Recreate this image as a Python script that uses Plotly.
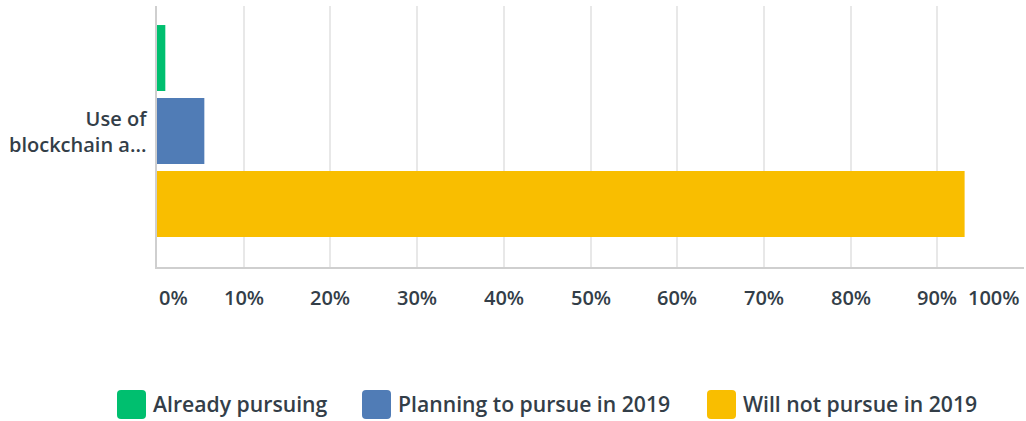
import plotly.graph_objects as go

# Survey question (truncated label as shown on the axis)
question = "Use of<br>blockchain a..."

# Response options and share of respondents (%)
responses = ["Already pursuing", "Planning to pursue in 2019", "Will not pursue in 2019"]
shares = [0.96, 5.46, 93.15]
colors = ["#00bf6f", "#507cb6", "#f9be00"]

# Percentage axis ticks
tick_vals = [0, 10, 20, 30, 40, 50, 60, 70, 80, 90, 100]
tick_text = [f"{v}%" for v in tick_vals]

W, H = 1026, 421
M_L, M_R, M_T, M_B = 157, 2, 6, 154
PW, PH = W - M_L - M_R, H - M_T - M_B
TEXT = "#333e48"
FONT = "Open Sans"


def px_x(p):
    return (p - M_L) / PW


def px_y(p):
    return (H - M_B - p) / PH


fig = go.Figure()
for name, val, col in zip(responses, shares, colors):
    fig.add_trace(go.Bar(
        y=[question], x=[val], name=name, orientation="h",
        marker=dict(color=col, line=dict(width=0)),
        showlegend=False,
    ))

annotations = []
# x tick labels: first and last pulled inside the plot edges
for v, t in zip(tick_vals, tick_text):
    anchor = "center"
    if v == tick_vals[0]:
        anchor = "left"
    elif v == tick_vals[-1]:
        anchor = "right"
    annotations.append(dict(
        x=v, xref="x", y=px_y(297), yref="paper", text=t, showarrow=False,
        xanchor=anchor, yanchor="middle", xshift=-2 if anchor == "right" else 0,
        font=dict(family=FONT, size=20, color=TEXT, weight=600),
    ))

# category label
annotations.append(dict(
    x=0, xref="paper", y=question, yref="y", text=question, showarrow=False,
    xanchor="right", yanchor="middle", xshift=-7, align="right",
    font=dict(family=FONT, size=20, color=TEXT, weight=600),
))

# custom legend with large rounded swatches
shapes = []
legend_left = [117, 362, 707]
sw, r = 29, 4
top, bot = 390, 419
for name, col, lx in zip(responses, colors, legend_left):
    x0, x1 = lx, lx + sw
    path = (
        f"M {px_x(x0 + r)} {px_y(top)} L {px_x(x1 - r)} {px_y(top)} "
        f"Q {px_x(x1)} {px_y(top)} {px_x(x1)} {px_y(top + r)} "
        f"L {px_x(x1)} {px_y(bot - r)} Q {px_x(x1)} {px_y(bot)} {px_x(x1 - r)} {px_y(bot)} "
        f"L {px_x(x0 + r)} {px_y(bot)} Q {px_x(x0)} {px_y(bot)} {px_x(x0)} {px_y(bot - r)} "
        f"L {px_x(x0)} {px_y(top + r)} Q {px_x(x0)} {px_y(top)} {px_x(x0 + r)} {px_y(top)} Z"
    )
    shapes.append(dict(type="path", xref="paper", yref="paper", path=path,
                       fillcolor=col, line=dict(width=0)))
    annotations.append(dict(
        x=px_x(x1 + 5), xref="paper", y=px_y(403), yref="paper", text=name,
        showarrow=False, xanchor="left", yanchor="middle",
        font=dict(family=FONT, size=21.2, color=TEXT, weight=600),
    ))

fig.update_layout(
    width=W, height=H,
    margin=dict(l=M_L, r=M_R, t=M_T, b=M_B, pad=0),
    paper_bgcolor="white", plot_bgcolor="white",
    barmode="group", bargap=0.161, bargroupgap=0.096,
    font=dict(family=FONT, color=TEXT),
    xaxis=dict(
        range=[0, 100], tickvals=tick_vals, showticklabels=False,
        showgrid=True, gridcolor="#e8e8e8", gridwidth=1.5,
        zeroline=False, showline=True, linecolor="#cfcfcf", linewidth=2,
        mirror=False, fixedrange=True,
    ),
    yaxis=dict(
        range=[0.521, -0.479], showticklabels=False, showgrid=False,
        zeroline=False, showline=True, linecolor="#cfcfcf", linewidth=2,
        fixedrange=True,
    ),
    annotations=annotations,
    shapes=shapes,
)

fig.write_html("out.html")
